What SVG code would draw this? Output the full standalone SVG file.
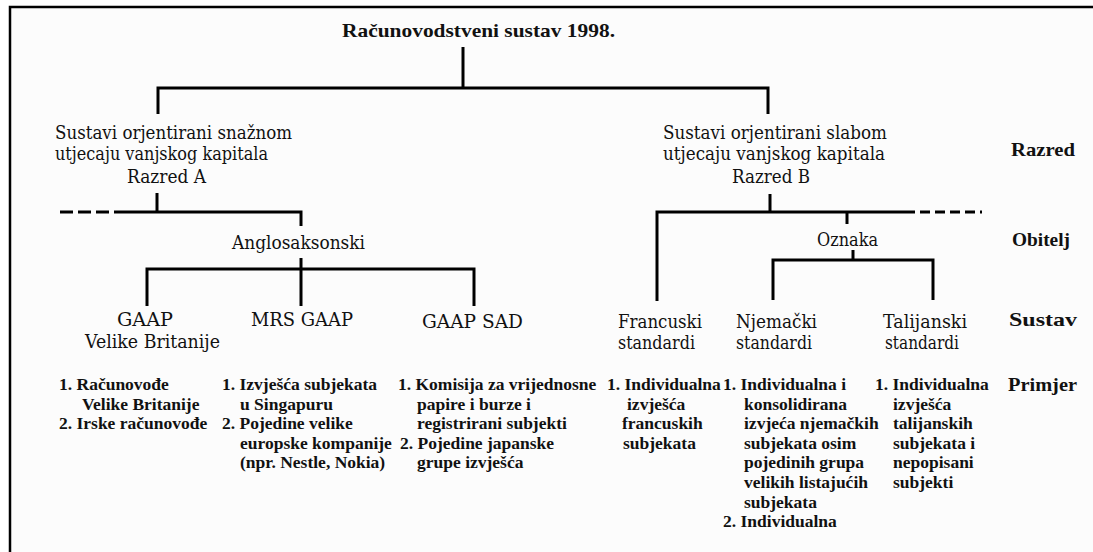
<svg xmlns="http://www.w3.org/2000/svg" width="1093" height="552" viewBox="0 0 1093 552">
<style>
text{font-family:"Liberation Serif","DejaVu Serif",serif;fill:#111}
.h{font-family:"DejaVu Serif","Liberation Serif",serif;font-size:18px;font-weight:normal}
.b{font-size:19px;font-weight:bold}
.l{font-size:17.5px;font-weight:bold}
.c{fill:none;stroke:#000;stroke-width:3}
.dl{stroke-dasharray:13 5}
.dr{stroke-dasharray:10 5}
</style>
<rect width="1093" height="552" fill="#fff"/>
<rect x="10" y="7" width="1083" height="545" fill="#fcfcfc"/>
<path d="M10,552 V7 H1093" fill="none" stroke="#000" stroke-width="2.5"/>

<g id="connectors">
<path class="c" d="M463,47 V88 M158,114 V88 H768 V114"/>
<path class="c" d="M157,193 V212 M127,212 H301 V226"/>
<path class="c dl" d="M60,212 H127"/>
<path class="c" d="M301,258 V306 M147,306 V269 H474 V306"/>
<path class="c" d="M770,194 V212 M657,301 V212 H905 M847,212 V224"/>
<path class="c dr" d="M905,212 H982"/>
<path class="c" d="M853,250 V260 M773,300 V260 H933 V300"/>
</g>

<g id="title"><text class="b" x="342" y="37" textLength="273" lengthAdjust="spacingAndGlyphs">Računovodstveni sustav 1998.</text></g>

<g id="razred-a">
<text class="h" x="55" y="139" textLength="237" lengthAdjust="spacingAndGlyphs">Sustavi orjentirani snažnom</text>
<text class="h" x="55" y="160" textLength="213" lengthAdjust="spacingAndGlyphs">utjecaju vanjskog kapitala</text>
<text class="h" x="127" y="183" textLength="79" lengthAdjust="spacingAndGlyphs">Razred A</text>
</g>
<g id="razred-b">
<text class="h" x="663" y="139" textLength="224" lengthAdjust="spacingAndGlyphs">Sustavi orjentirani slabom</text>
<text class="h" x="663" y="160" textLength="222" lengthAdjust="spacingAndGlyphs">utjecaju vanjskog kapitala</text>
<text class="h" x="732" y="183" textLength="78" lengthAdjust="spacingAndGlyphs">Razred B</text>
</g>

<g id="anglosaksonski"><text class="h" x="232" y="249" textLength="133" lengthAdjust="spacingAndGlyphs">Anglosaksonski</text></g>
<g id="oznaka"><text class="h" x="817" y="246" textLength="61" lengthAdjust="spacingAndGlyphs">Oznaka</text></g>

<g id="gaap-uk">
<text class="h" x="117" y="326" textLength="56" lengthAdjust="spacingAndGlyphs">GAAP</text>
<text class="h" x="85" y="348" textLength="135" lengthAdjust="spacingAndGlyphs">Velike Britanije</text>
</g>
<g id="mrs-gaap"><text class="h" x="251" y="326" textLength="102" lengthAdjust="spacingAndGlyphs">MRS GAAP</text></g>
<g id="gaap-sad"><text class="h" x="422" y="328" textLength="101" lengthAdjust="spacingAndGlyphs">GAAP SAD</text></g>
<g id="francuski">
<text class="h" x="618" y="328" textLength="84" lengthAdjust="spacingAndGlyphs">Francuski</text>
<text class="h" x="618" y="349" textLength="77" lengthAdjust="spacingAndGlyphs">standardi</text>
</g>
<g id="njemacki">
<text class="h" x="736" y="328" textLength="81" lengthAdjust="spacingAndGlyphs">Njemački</text>
<text class="h" x="736" y="349" textLength="76" lengthAdjust="spacingAndGlyphs">standardi</text>
</g>
<g id="talijanski">
<text class="h" x="883" y="328" textLength="84" lengthAdjust="spacingAndGlyphs">Talijanski</text>
<text class="h" x="885" y="349" textLength="74" lengthAdjust="spacingAndGlyphs">standardi</text>
</g>

<g id="levels">
<text class="b" x="1011" y="156" textLength="64" lengthAdjust="spacingAndGlyphs">Razred</text>
<text class="b" x="1012" y="246" textLength="58" lengthAdjust="spacingAndGlyphs">Obitelj</text>
<text class="b" x="1009" y="326" textLength="68" lengthAdjust="spacingAndGlyphs">Sustav</text>
<text class="b" x="1008" y="391" textLength="69" lengthAdjust="spacingAndGlyphs">Primjer</text>
</g>

<g id="primjer-uk">
<text class="l" x="59" y="390">1. Računovođe</text>
<text class="l" x="82" y="409.6">Velike Britanije</text>
<text class="l" x="59" y="429.2">2. Irske računovođe</text>
</g>
<g id="primjer-mrs">
<text class="l" x="222" y="390">1. Izvješća subjekata</text>
<text class="l" x="240" y="409.6">u Singapuru</text>
<text class="l" x="222" y="429.2">2. Pojedine velike</text>
<text class="l" x="240" y="448.8">europske kompanije</text>
<text class="l" x="240" y="468.4">(npr. Nestle, Nokia)</text>
</g>
<g id="primjer-sad">
<text class="l" x="398" y="390">1. Komisija za vrijednosne</text>
<text class="l" x="417" y="409.6">papire i burze i</text>
<text class="l" x="417" y="429.2">registrirani subjekti</text>
<text class="l" x="400" y="448.8">2. Pojedine japanske</text>
<text class="l" x="417" y="468.4">grupe izvješća</text>
</g>
<g id="primjer-fr">
<text class="l" x="607" y="390">1. Individualna</text>
<text class="l" x="627" y="409.6">izvješća</text>
<text class="l" x="622" y="429.2">francuskih</text>
<text class="l" x="623" y="448.8">subjekata</text>
</g>
<g id="primjer-de">
<text class="l" x="723" y="390">1. Individualna i</text>
<text class="l" x="744" y="409.6">konsolidirana</text>
<text class="l" x="744" y="429.2">izvjeća njemačkih</text>
<text class="l" x="744" y="448.8">subjekata osim</text>
<text class="l" x="744" y="468.4">pojedinih grupa</text>
<text class="l" x="744" y="488">velikih listajućih</text>
<text class="l" x="744" y="507.6">subjekata</text>
<text class="l" x="723" y="527.2">2. Individualna</text>
</g>
<g id="primjer-it">
<text class="l" x="875" y="390">1. Individualna</text>
<text class="l" x="893" y="409.6">izvješća</text>
<text class="l" x="893" y="429.2">talijanskih</text>
<text class="l" x="893" y="448.8">subjekata i</text>
<text class="l" x="893" y="468.4">nepopisani</text>
<text class="l" x="893" y="488">subjekti</text>
</g>
</svg>
